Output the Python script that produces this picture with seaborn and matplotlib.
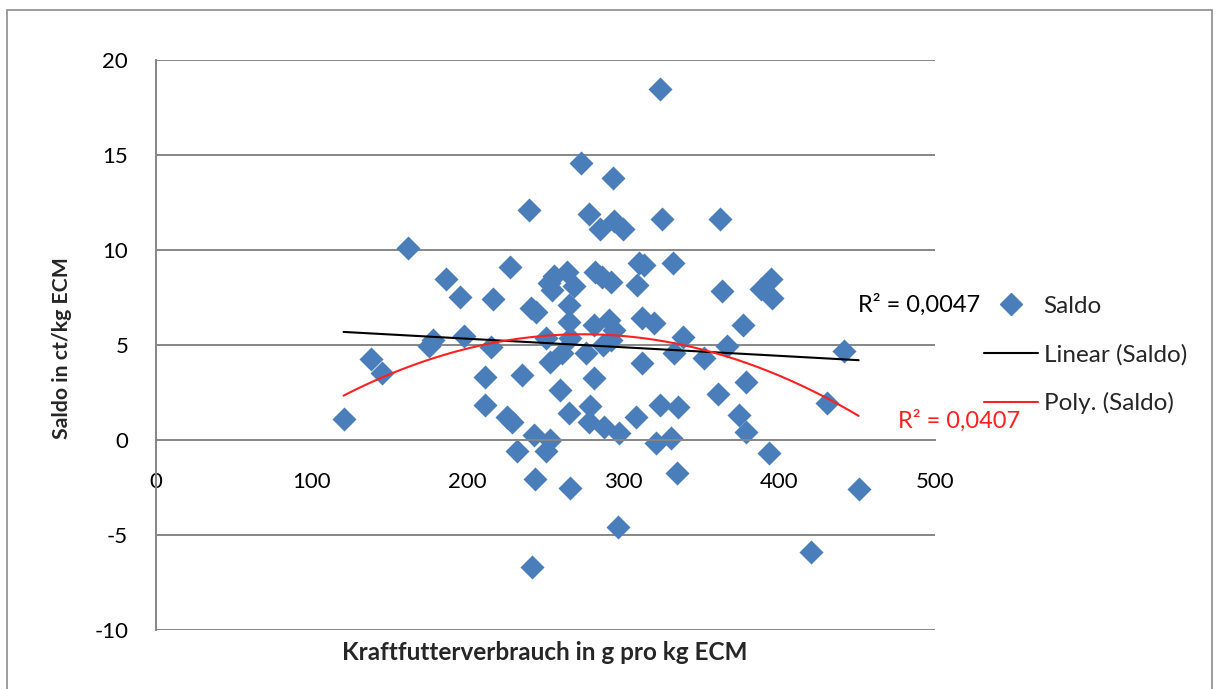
import numpy as np
import pandas as pd
import matplotlib
matplotlib.use("Agg")
import matplotlib.pyplot as plt
import seaborn as sns
from matplotlib.lines import Line2D
from matplotlib.patches import Rectangle

# ---- data ----
kraftfutter = [120.4, 138, 145, 162, 175, 178, 186, 195.4, 197.5, 211.4, 211.4, 214.7, 216,
               225.4, 228.6, 227.5, 231.4, 235, 239.7, 240.4, 243.6, 242.5, 243, 241.6,
               250.6, 250.6, 253.2, 253.2, 252, 254, 255.4, 259.6, 260.7, 264, 265, 265,
               266, 265, 266, 268, 272.5, 275.7, 278, 278.5, 277.9, 281, 281, 282, 284.7,
               286.4, 287, 287.5, 290.7, 291.8, 291.8, 293.5, 294, 294, 296.5, 297, 300,
               307.8, 308.5, 310, 313, 311.7, 312, 319.5, 320.7, 323.3, 324.5, 323.5, 330.3,
               332, 332.5, 335, 334.2, 338.5, 351.7, 361, 362, 363.5, 366.8, 374.2, 377,
               378.5, 378.5, 388, 393.5, 394.6, 395.6, 420.3, 431, 441.3, 451]
saldo = [1.1, 4.25, 3.55, 10.1, 4.95, 5.26, 8.45, 7.55, 5.5, 3.33, 1.84, 4.9, 7.4,
         1.23, 0.96, 9.1, -0.6, 3.42, 12.1, 6.93, 6.75, 0.26, -2.07, -6.67,
         5.35, -0.6, 0.0, 4.12, 8.25, 7.9, 8.63, 2.63, 4.56, 8.86, 7.1, 6.23,
         5.35, 1.4, -2.5, 8.1, 14.6, 4.56, 11.9, 1.79, 0.96, 3.25, 6.05, 8.86, 11.1,
         8.6, 5.0, 0.7, 6.3, 8.33, 5.26, 13.8, 11.55, 5.8, -4.6, 0.38, 11.1,
         1.23, 8.16, 9.3, 9.2, 4.03, 6.4, 6.17, -0.18, 18.47, 11.63, 1.84, 0.09,
         9.33, 4.56, 1.72, -1.72, 5.44, 4.3, 2.4, 11.63, 7.86, 4.96, 1.3, 6.05,
         3.07, 0.44, 7.93, -0.67, 8.5, 7.46, -5.88, 1.96, 4.7, -2.6]
x_ticks = [0, 100, 200, 300, 400, 500]
y_ticks = [-10, -5, 0, 5, 10, 15, 20]
r2_linear = "R² = 0,0047"
r2_poly = "R² = 0,0407"
series_name = "Saldo"
x_label = "Kraftfutterverbrauch in g pro kg ECM"
y_label = "Saldo in ct/kg ECM"

df = pd.DataFrame({"x": kraftfutter, "y": saldo})

sns.set_theme(style="white")
plt.rcParams["font.family"] = ["Lato", "DejaVu Sans"]

W, H = 1219, 689
fig = plt.figure(figsize=(W / 100, H / 100), dpi=100)
fig.patch.set_facecolor("white")

# outer chart border
fig.patches.append(Rectangle((7 / W, -0.05), (1212 - 7) / W, 1.05 - 10 / H,
                             transform=fig.transFigure, fill=False,
                             edgecolor="#8c8c8c", linewidth=1.2))

ax = fig.add_axes([156 / W, 1 - 630 / H, (935 - 156) / W, (630 - 60) / H])
grid_c = "#868686"

for yv in y_ticks:
    if yv != 0:
        ax.axhline(yv, color=grid_c, lw=1.4, zorder=0)

# trend lines
xs = np.linspace(min(kraftfutter), max(kraftfutter), 200)
lin = np.polyfit(df["x"], df["y"], 1)
poly = np.polyfit(df["x"], df["y"], 2)
sns.lineplot(x=xs, y=np.polyval(lin, xs), ax=ax, color="black", lw=1.5, zorder=3)
sns.lineplot(x=xs, y=np.polyval(poly, xs), ax=ax, color="#ff2020", lw=1.5, zorder=3)

sns.scatterplot(data=df, x="x", y="y", ax=ax, marker="D", s=150, color="#4a7ebb",
                edgecolor="#4a7ebb", linewidth=0, zorder=2)

ax.set_xlim(0, 500)
ax.set_ylim(-10, 20)
ax.set_xticks(x_ticks)
ax.set_yticks(y_ticks)
ax.set_xticklabels([str(v) for v in x_ticks])
ax.set_yticklabels([str(v) for v in y_ticks])
for s in ["top", "right"]:
    ax.spines[s].set_visible(False)
ax.spines["bottom"].set_position(("data", 0))
ax.spines["bottom"].set_color(grid_c)
ax.spines["bottom"].set_linewidth(1.4)
ax.spines["left"].set_color(grid_c)
ax.spines["left"].set_linewidth(1.4)
ax.tick_params(axis="both", length=0, labelsize=16, colors="black")
ax.tick_params(axis="y", pad=20)
ax.tick_params(axis="x", pad=23)
ax.set_xlabel("")
ax.set_ylabel("")

fig.text(545 / W, 1 - 652 / H, x_label, ha="center", va="center",
         fontsize=17.5, fontweight="bold")
fig.text(62 / W, 1 - 348 / H, y_label, ha="center", va="center",
         rotation=90, fontsize=15.3, fontweight="bold")

fig.text(858 / W, 1 - 305 / H, r2_linear, ha="left", va="center",
         fontsize=17, color="black")
fig.text(898 / W, 1 - 421 / H, r2_poly, ha="left", va="center",
         fontsize=17, color="#ff2020")

handles = [Line2D([], [], marker="D", color="#4a7ebb", linestyle="none", markersize=11),
           Line2D([], [], color="black", lw=1.5),
           Line2D([], [], color="#ff2020", lw=1.5)]
labels = [series_name, f"Linear ({series_name})", f"Poly. ({series_name})"]
fig.legend(handles, labels, loc="center left", bbox_to_anchor=(972 / W, 1 - 355 / H),
           frameon=False, fontsize=17.5, handlelength=2.2, handletextpad=0.25,
           labelspacing=1.1, borderpad=0)

fig.savefig("out.png", dpi=100)
